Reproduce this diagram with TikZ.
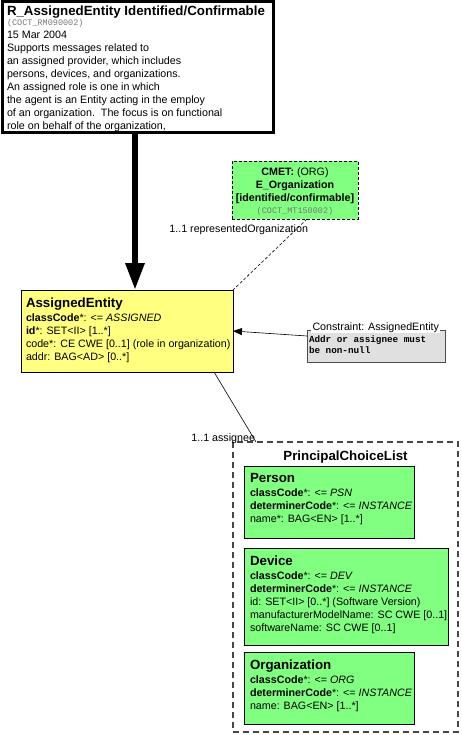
\documentclass[tikz,border=0pt]{standalone}
\usepackage{fontspec}
\setmainfont{Liberation Sans}
\setmonofont{Liberation Mono}
\usetikzlibrary{arrows.meta,calc}
\definecolor{roleyellow}{RGB}{255,255,128}
\definecolor{entgreen}{RGB}{128,255,128}
\definecolor{cnstgray}{RGB}{224,224,224}
\definecolor{codegray}{RGB}{120,120,120}
\definecolor{dashgray}{RGB}{70,70,70}
\newcommand{\st}{\rule{0pt}{9pt}}
\newcommand{\mst}{\rule{0pt}{8pt}}
\begin{document}
\begin{tikzpicture}[x=1pt,y=-1pt,
  every node/.style={inner sep=0pt,outer sep=0pt},
  hdrbox/.style={draw=black,line width=3pt,fill=white,anchor=north west},
  rolebox/.style={draw=black,line width=0.8pt,fill=roleyellow,anchor=north west},
  entbox/.style={draw=black,line width=0.8pt,fill=entgreen,anchor=north west},
  cmetbox/.style={draw=black,line width=0.8pt,dash pattern=on 3pt off 2pt,fill=entgreen,anchor=north west},
  choicebox/.style={draw=dashgray,line width=1.2pt,dash pattern=on 6pt off 4pt,anchor=north west},
  cnstbox/.style={draw=black!70,line width=0.8pt,fill=cnstgray,anchor=north west},
  ttl/.style={font=\fontsize{13.3}{15}\selectfont\bfseries,anchor=base west},
  body/.style={font=\fontsize{10.7}{12.9}\selectfont,align=left,anchor=north west},
  lbl/.style={font=\fontsize{10.7}{12.9}\selectfont,anchor=base east},
  code/.style={font=\fontsize{8.5}{10}\selectfont\ttfamily,text=codegray,anchor=base west},
  thinline/.style={line width=0.6pt},
]
\useasboundingbox (0,0) rectangle (461,735);

% header note
\node[hdrbox,minimum width=271pt,minimum height=131pt] (hdr) at (2,2) {};
\node[ttl] (hdrt) at (7,15.8) {R\_AssignedEntity Identified/Confirmable};
\node[code] (hdrc) at (7,25.8) {(COCT\_RM090002)};
\node[body] (hdrb) at (7,29.8) {\st 15 Mar 2004\\Supports messages related to\\an assigned provider, which includes\\persons, devices, and organizations.\\An assigned role is one in which\\the agent is an Entity acting in the employ\\of an organization.\ \ The focus is on functional\\role on behalf of the organization,};

% AssignedEntity
\node[rolebox,minimum width=212pt,minimum height=82pt] (ae) at (21,290) {};
\node[ttl] (aet) at (26,307.8) {AssignedEntity};
\node[body] (aeb) at (26,312.8) {\st\textbf{classCode}*: <= \textit{ASSIGNED}\\\textbf{id}*: SET<II> [1..*]\\code*: CE CWE [0..1] (role in organization)\\addr: BAG<AD> [0..*]};

% thick arrow
\coordinate (ax) at (135,0);
\draw[line width=6pt,-{Triangle[length=27pt,width=18pt]}] (hdr.south -| ax) -- (ae.north -| ax);

% CMET
\node[cmetbox,minimum width=126pt,minimum height=58pt] (cmet) at (232,161) {};
\node[font=\fontsize{10.7}{12.9}\selectfont\bfseries,align=center,anchor=north] (cmett) at (295,167) {\st CMET: \mdseries(ORG)\\E\_Organization\\{[}identified/confirmable]};
\node[code,anchor=base] (cmetc) at (295,213.5) {(COCT\_MT150002)};
\coordinate (cx) at (307,0);
\draw[thinline,dash pattern=on 3pt off 2pt] (cmet.south -| cx) -- (ae.north east);
\node[lbl] (rolbl) at (308,232) {1..1 representedOrganization};

% constraint
\node[cnstbox,minimum width=138pt,minimum height=32pt] (cns) at (307,330) {};
\node[font=\fontsize{10.7}{12.9}\selectfont,fill=white,inner xsep=1.5pt,anchor=base west] (cnsl) at (311,330.8) {Constraint: AssignedEntity};
\node[font=\fontsize{9.3}{10.2}\selectfont\ttfamily\bfseries,align=left,anchor=north west] (cnsb) at (309,334.8) {\mst Addr or assignee must\\be non-null};
\draw[thinline,-{Triangle[length=9pt,width=7pt]}] ($(cns.north west)+(0,6)$) -- ($(ae.north east)+(0,41)$);

% assignee
\node[choicebox,minimum width=225pt,minimum height=290pt] (pcl) at (233,442) {};
\coordinate (sx) at (214,0);
\coordinate (px) at (256,0);
\draw[thinline] (ae.south -| sx) -- (pcl.north -| px);
\node[lbl] (asl) at (255,441) {1..1 assignee};
\node[ttl,anchor=base] (pclt) at (345.5,460) {PrincipalChoiceList};

% Person
\node[entbox,minimum width=170pt,minimum height=72pt] (psn) at (244,466) {};
\node[ttl] (psnt) at (250,482.8) {Person};
\node[body] (psnb) at (250,487.8) {\st\textbf{classCode}*: <= \textit{PSN}\\\textbf{determinerCode}*: <= \textit{INSTANCE}\\name*: BAG<EN> [1..*]};

% Device
\node[entbox,minimum width=204pt,minimum height=97pt] (dev) at (244,548) {};
\node[ttl] (devt) at (250,565.8) {Device};
\node[body] (devb) at (250,570.8) {\st\textbf{classCode}*: <= \textit{DEV}\\\textbf{determinerCode}*: <= \textit{INSTANCE}\\id: SET<II> [0..*] (Software Version)\\manufacturerModelName: SC CWE [0..1]\\softwareName: SC CWE [0..1]};

% Organization
\node[entbox,minimum width=170pt,minimum height=72pt] (org) at (244,652) {};
\node[ttl] (orgt) at (250,669.8) {Organization};
\node[body] (orgb) at (250,674.8) {\st\textbf{classCode}*: <= \textit{ORG}\\\textbf{determinerCode}*: <= \textit{INSTANCE}\\name: BAG<EN> [1..*]};
\end{tikzpicture}
\end{document}
